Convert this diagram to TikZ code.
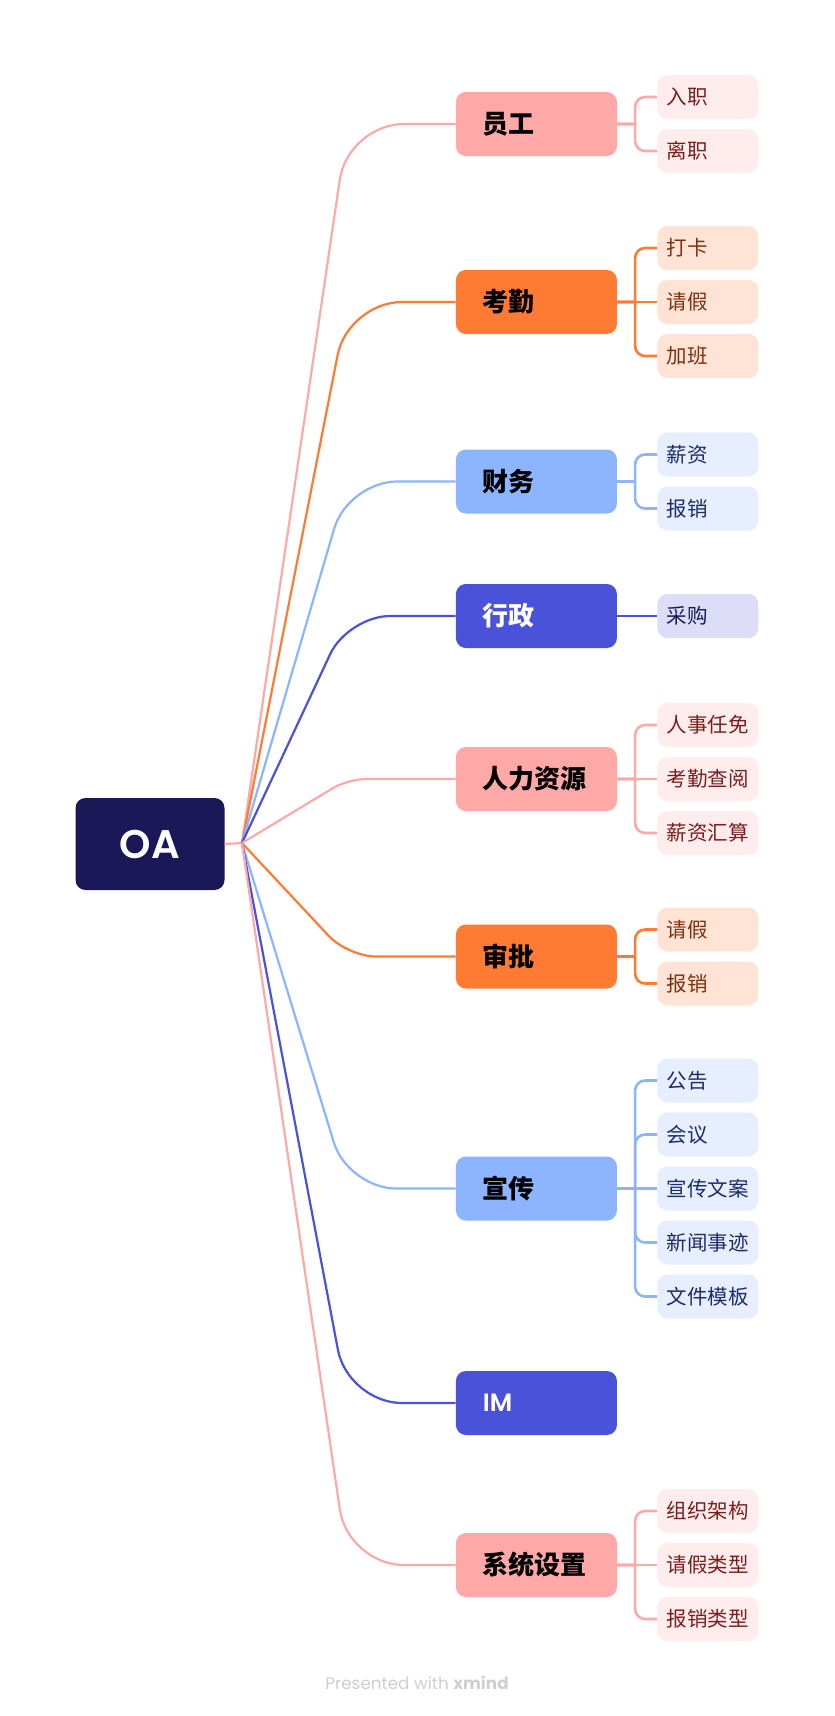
\documentclass[tikz,border=0pt]{standalone}
\usepackage{fontspec}
\newfontfamily\cjk{Noto Sans CJK SC}
\newfontfamily\poppins{Poppins}
\newfontfamily\poppinsSB{Poppins}[UprightFont=* SemiBold]
\usetikzlibrary{positioning}

% Couleurs des branches
\definecolor{cNuit}{HTML}{1A1856}
\definecolor{cRose}{HTML}{FFA8A8}
\definecolor{cOrange}{HTML}{FF7B33}
\definecolor{cBleu}{HTML}{8CB4FF}
\definecolor{cIndigo}{HTML}{4A52D9}
% Fonds et textes des feuilles
\definecolor{fRose}{HTML}{FFEDED}
\definecolor{fOrange}{HTML}{FFE4D6}
\definecolor{fBleu}{HTML}{E6EEFF}
\definecolor{fIndigo}{HTML}{DDDDF8}
\definecolor{tRose}{HTML}{7A1E1E}
\definecolor{tOrange}{HTML}{7A3210}
\definecolor{tBleu}{HTML}{1C2C66}
\definecolor{tIndigo}{HTML}{1A1856}
\definecolor{gris}{HTML}{CFCFCF}

\tikzset{
  centre/.style={rounded corners=10pt, fill=cNuit, text=white, minimum width=149pt, minimum height=92pt, font=\poppinsSB\fontsize{40}{46}\selectfont},
  principal/.style={rounded corners=10pt, minimum height=64pt, inner xsep=27pt, inner ysep=0pt, text width=107pt, align=left, font=\cjk\bfseries\fontsize{26}{30}\selectfont},
  feuille/.style={rounded corners=10pt, minimum height=44pt, inner xsep=9.5pt, inner ysep=0pt, text width=82pt, align=left, font=\cjk\fontsize{20.5}{24}\selectfont},
  branche/.style={line width=2.2pt},
  sous/.style={line width=2.6pt, rounded corners=10pt},
}

% Branche principale : noeud, couleur, rayon du coude
\newcommand{\Branche}[3]{\draw[branche,#2,rounded corners=#3] (racine) -- (coin |- #1.west) -- (#1.west)}
% Feuille : parent, nom, y, couleur, texte
\newcommand{\Feuille}[5]{\node[feuille,fill=f#4,text=t#4] (#2) at (\xf,#3) {#5};
  \draw[sous,c#4] (#1.east) -- ++(18,0) ([xshift=18pt]#1.east) |- (#2.west)}
% Feuille dans l'axe du parent
\newcommand{\FeuilleDroite}[5]{\node[feuille,fill=f#4,text=t#4] (#2) at (\xf,#3) {#5};
  \draw[sous,c#4] (#1.east) -- (#2.west)}

\begin{document}
\begin{tikzpicture}[x=1pt,y=-1pt]
	\def\xp{536.4};
	\def\xf{707.8};
\fill[white] (0,0) rectangle (835,1716);
\useasboundingbox (0,0) rectangle (835,1716);

%Centre
\coordinate (racine) at (242,843);
\coordinate (coin) at (348,843);
\node[centre] (oa) at (150,844) {OA};
\draw[branche,cRose] (oa.east) -- (racine);

%Branches principales
\node[principal,fill=cRose] (employe) at (\xp,124) {员工};
\node[principal,fill=cOrange] (presence) at (\xp,302) {考勤};
\node[principal,fill=cBleu] (finance) at (\xp,481.5) {财务};
\node[principal,fill=cIndigo,text=white] (admin) at (\xp,616) {行政};
\node[principal,fill=cRose] (rh) at (\xp,779) {人力资源};
\node[principal,fill=cOrange] (approbation) at (\xp,956.5) {审批};
\node[principal,fill=cBleu] (promo) at (\xp,1188.5) {宣传};
\node[principal,fill=cIndigo,text=white,font=\poppinsSB\fontsize{25}{30}\selectfont] (im) at (\xp,1403) {IM};
\node[principal,fill=cRose] (systeme) at (\xp,1565) {系统设置};

\Branche{employe}{cRose}{56pt};
\Branche{presence}{cOrange}{54pt};
\Branche{finance}{cBleu}{49pt};
\Branche{admin}{cIndigo}{42pt};
\Branche{rh}{cRose}{18pt};
\Branche{approbation}{cOrange}{28pt};
\Branche{promo}{cBleu}{48pt};
\Branche{im}{cIndigo}{54pt};
\Branche{systeme}{cRose}{56pt};

%Feuilles
\Feuille{employe}{entree}{97}{Rose}{入职};
\Feuille{employe}{depart}{151}{Rose}{离职};

\Feuille{presence}{pointage}{248}{Orange}{打卡};
\FeuilleDroite{presence}{conge}{302}{Orange}{请假};
\Feuille{presence}{heuresup}{356}{Orange}{加班};

\Feuille{finance}{salaire}{454.5}{Bleu}{薪资};
\Feuille{finance}{remb}{508.5}{Bleu}{报销};

\FeuilleDroite{admin}{achat}{616}{Indigo}{采购};

\Feuille{rh}{nomination}{725}{Rose}{人事任免};
\FeuilleDroite{rh}{consult}{779}{Rose}{考勤查阅};
\Feuille{rh}{paie}{833}{Rose}{薪资汇算};

\Feuille{approbation}{congeA}{929.5}{Orange}{请假};
\Feuille{approbation}{rembA}{983.5}{Orange}{报销};

\Feuille{promo}{annonce}{1080.5}{Bleu}{公告};
\Feuille{promo}{reunion}{1134.5}{Bleu}{会议};
\FeuilleDroite{promo}{texte}{1188.5}{Bleu}{宣传文案};
\Feuille{promo}{nouvelles}{1242.5}{Bleu}{新闻事迹};
\Feuille{promo}{modele}{1296.5}{Bleu}{文件模板};

\Feuille{systeme}{organi}{1511}{Rose}{组织架构};
\FeuilleDroite{systeme}{typeconge}{1565}{Rose}{请假类型};
\Feuille{systeme}{typeremb}{1619}{Rose}{报销类型};

%Mention
\node[font=\poppins\fontsize{16.8}{20}\selectfont,text=gris] (credit) at (417,1683) {Presented with \textbf{xmind}};

\end{tikzpicture}
\end{document}
